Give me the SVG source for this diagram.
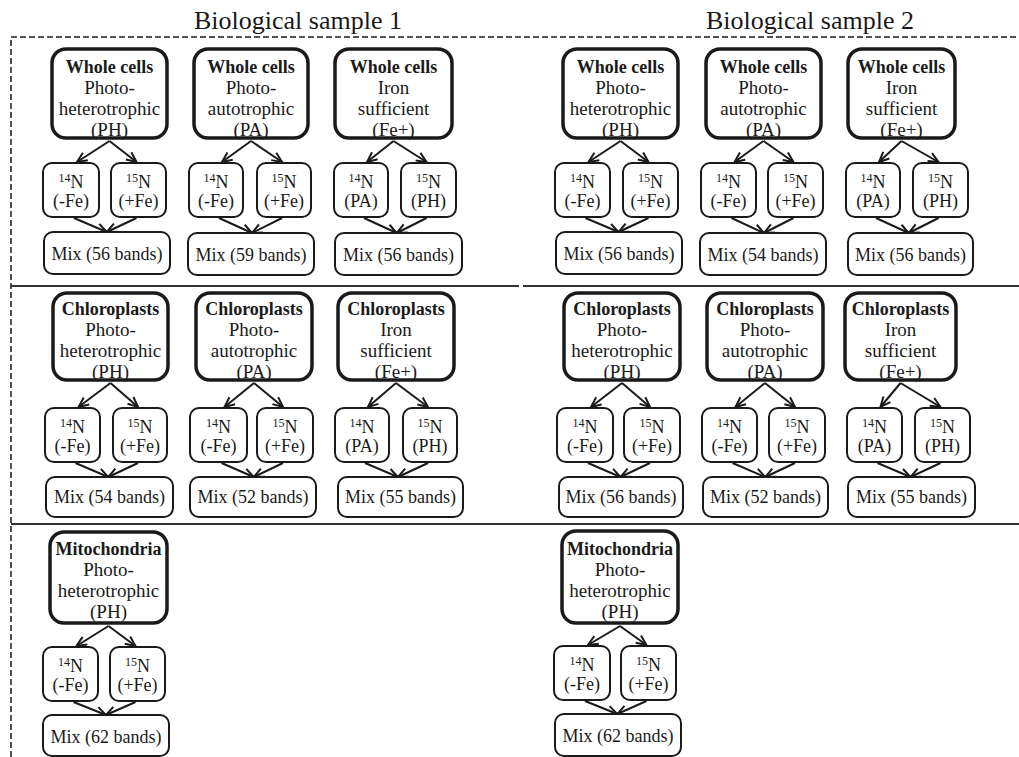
<svg xmlns="http://www.w3.org/2000/svg" width="1019" height="757" viewBox="0 0 1019 757">
<style>
.big{fill:#fff;stroke:#1a1a1a;stroke-width:3.5}
.sm{fill:#fff;stroke:#1a1a1a;stroke-width:2}
text{font-family:"Liberation Serif","Times New Roman",serif;font-size:18px;fill:#1a1a1a;text-anchor:middle}
.l{font-size:19px}
.b{font-weight:bold}
.sup{font-size:12px}
.title{font-size:26px}
#connectors line{stroke:#1a1a1a;stroke-width:2;marker-end:url(#ah)}
.frame{fill:none;stroke:#1a1a1a;stroke-width:1.5;stroke-dasharray:6 3}
.sep{stroke:#333;stroke-width:2}
</style>
<defs>
<marker id="ah" viewBox="0 0 12 12" refX="11" refY="6" markerWidth="12" markerHeight="12" markerUnits="userSpaceOnUse" orient="auto">
<path d="M1,1.5 L11,6 L1,10.5" fill="none" stroke="#1a1a1a" stroke-width="2"/>
</marker>
</defs>
<rect width="1019" height="757" fill="#fff"/>
<text class="title" x="298" y="29">Biological sample 1</text>
<text class="title" x="810" y="29">Biological sample 2</text>
<path class="frame" d="M11,757 V37 H1019"/>
<line class="sep" x1="11" y1="286" x2="519" y2="286"/>
<line class="sep" x1="523" y1="286" x2="1019" y2="286"/>
<line class="sep" x1="11" y1="524" x2="1019" y2="524"/>

<g id="connectors">
<line x1="109.5" y1="141" x2="77" y2="162"/><line x1="109.5" y1="141" x2="136.5" y2="162"/>
<line x1="74" y1="218" x2="106.75" y2="232"/><line x1="136.5" y1="218" x2="106.75" y2="232"/>
<line x1="251" y1="141" x2="222" y2="162"/><line x1="251" y1="141" x2="282" y2="162"/>
<line x1="219" y1="218" x2="252" y2="233"/><line x1="282" y1="218" x2="252" y2="233"/>
<line x1="393.5" y1="141" x2="367" y2="162"/><line x1="393.5" y1="141" x2="426.5" y2="162"/>
<line x1="364" y1="218" x2="396.75" y2="233"/><line x1="426.5" y1="218" x2="396.75" y2="233"/>
<line x1="620.5" y1="141" x2="588.5" y2="162"/><line x1="620.5" y1="141" x2="648.5" y2="162"/>
<line x1="585.5" y1="218" x2="618.5" y2="232"/><line x1="648.5" y1="218" x2="618.5" y2="232"/>
<line x1="763.5" y1="141" x2="734.5" y2="162"/><line x1="763.5" y1="141" x2="793.5" y2="162"/>
<line x1="731.5" y1="218" x2="764" y2="233"/><line x1="793.5" y1="218" x2="764" y2="233"/>
<line x1="901.5" y1="141" x2="879" y2="162"/><line x1="901.5" y1="141" x2="938.5" y2="162"/>
<line x1="876" y1="218" x2="908.75" y2="233"/><line x1="938.5" y1="218" x2="908.75" y2="233"/>

<line x1="110.5" y1="383" x2="78.5" y2="407"/><line x1="110.5" y1="383" x2="138" y2="407"/>
<line x1="75.5" y1="463" x2="108.25" y2="477"/><line x1="138" y1="463" x2="108.25" y2="477"/>
<line x1="254" y1="383" x2="224.5" y2="407"/><line x1="254" y1="383" x2="283" y2="407"/>
<line x1="221.5" y1="463" x2="253.75" y2="477"/><line x1="283" y1="463" x2="253.75" y2="477"/>
<line x1="396" y1="383" x2="368" y2="407"/><line x1="396" y1="383" x2="428" y2="407"/>
<line x1="365" y1="463" x2="398" y2="477"/><line x1="428" y1="463" x2="398" y2="477"/>
<line x1="622" y1="383" x2="591" y2="407"/><line x1="622" y1="383" x2="650" y2="407"/>
<line x1="588" y1="463" x2="620.5" y2="477"/><line x1="650" y1="463" x2="620.5" y2="477"/>
<line x1="765" y1="383" x2="735.5" y2="407"/><line x1="765" y1="383" x2="795" y2="407"/>
<line x1="732.5" y1="463" x2="765.25" y2="477"/><line x1="795" y1="463" x2="765.25" y2="477"/>
<line x1="900.5" y1="383" x2="880.5" y2="407"/><line x1="900.5" y1="383" x2="940.5" y2="407"/>
<line x1="877.5" y1="463" x2="910.5" y2="477"/><line x1="940.5" y1="463" x2="910.5" y2="477"/>

<line x1="108.5" y1="626" x2="76.5" y2="646"/><line x1="108.5" y1="626" x2="135.5" y2="646"/>
<line x1="73.5" y1="702" x2="106" y2="715"/><line x1="135.5" y1="702" x2="106" y2="715"/>
<line x1="620" y1="626" x2="588" y2="645"/><line x1="620" y1="626" x2="646.5" y2="645"/>
<line x1="585" y1="701" x2="617.25" y2="714"/><line x1="646.5" y1="701" x2="617.25" y2="714"/>
</g>

<!-- Row 1, sample 1 -->
<g id="s1-wc-ph"><rect class="big" x="52" y="49" width="115" height="89" rx="14"/>
<text x="109.5" y="73" class="b">Whole cells</text><text class="l" x="109.5" y="94">Photo-</text><text class="l" x="109.5" y="115">heterotrophic</text><text class="l" x="109.5" y="136">(PH)</text></g>
<g id="s1-wc-ph-14n"><rect class="sm" x="43" y="163" width="56" height="54" rx="9"/>
<text x="71" y="188"><tspan class="sup" dy="-6">14</tspan><tspan dy="6">N</tspan></text><text x="71" y="207">(-Fe)</text></g>
<g id="s1-wc-ph-15n"><rect class="sm" x="111" y="163" width="55" height="54" rx="9"/>
<text x="138.5" y="188"><tspan class="sup" dy="-6">15</tspan><tspan dy="6">N</tspan></text><text x="138.5" y="207">(+Fe)</text></g>
<g id="s1-wc-ph-mix"><rect class="sm" x="44" y="232" width="126" height="42" rx="9"/>
<text x="107" y="260">Mix (56 bands)</text></g>

<g id="s1-wc-pa"><rect class="big" x="194" y="49" width="114" height="89" rx="14"/>
<text x="251" y="73" class="b">Whole cells</text><text class="l" x="251" y="94">Photo-</text><text class="l" x="251" y="115">autotrophic</text><text class="l" x="251" y="136">(PA)</text></g>
<g id="s1-wc-pa-14n"><rect class="sm" x="189" y="163" width="54" height="54" rx="9"/>
<text x="216" y="188"><tspan class="sup" dy="-6">14</tspan><tspan dy="6">N</tspan></text><text x="216" y="207">(-Fe)</text></g>
<g id="s1-wc-pa-15n"><rect class="sm" x="257" y="163" width="54" height="54" rx="9"/>
<text x="284" y="188"><tspan class="sup" dy="-6">15</tspan><tspan dy="6">N</tspan></text><text x="284" y="207">(+Fe)</text></g>
<g id="s1-wc-pa-mix"><rect class="sm" x="188" y="233" width="126" height="42" rx="9"/>
<text x="251" y="261">Mix (59 bands)</text></g>

<g id="s1-wc-fe"><rect class="big" x="335" y="49" width="117" height="89" rx="14"/>
<text x="393.5" y="73" class="b">Whole cells</text><text class="l" x="393.5" y="94">Iron</text><text class="l" x="393.5" y="115">sufficient</text><text class="l" x="393.5" y="136">(Fe+)</text></g>
<g id="s1-wc-fe-14n"><rect class="sm" x="334" y="163" width="54" height="54" rx="9"/>
<text x="361" y="188"><tspan class="sup" dy="-6">14</tspan><tspan dy="6">N</tspan></text><text x="361" y="207">(PA)</text></g>
<g id="s1-wc-fe-15n"><rect class="sm" x="401" y="163" width="55" height="54" rx="9"/>
<text x="428.5" y="188"><tspan class="sup" dy="-6">15</tspan><tspan dy="6">N</tspan></text><text x="428.5" y="207">(PH)</text></g>
<g id="s1-wc-fe-mix"><rect class="sm" x="335" y="233" width="127" height="42" rx="9"/>
<text x="398.5" y="261">Mix (56 bands)</text></g>

<!-- Row 1, sample 2 -->
<g id="s2-wc-ph"><rect class="big" x="563" y="49" width="115" height="89" rx="14"/>
<text x="620.5" y="73" class="b">Whole cells</text><text class="l" x="620.5" y="94">Photo-</text><text class="l" x="620.5" y="115">heterotrophic</text><text class="l" x="620.5" y="136">(PH)</text></g>
<g id="s2-wc-ph-14n"><rect class="sm" x="555" y="163" width="55" height="54" rx="9"/>
<text x="582.5" y="188"><tspan class="sup" dy="-6">14</tspan><tspan dy="6">N</tspan></text><text x="582.5" y="207">(-Fe)</text></g>
<g id="s2-wc-ph-15n"><rect class="sm" x="623" y="163" width="55" height="54" rx="9"/>
<text x="650.5" y="188"><tspan class="sup" dy="-6">15</tspan><tspan dy="6">N</tspan></text><text x="650.5" y="207">(+Fe)</text></g>
<g id="s2-wc-ph-mix"><rect class="sm" x="556" y="232" width="126" height="42" rx="9"/>
<text x="619" y="260">Mix (56 bands)</text></g>

<g id="s2-wc-pa"><rect class="big" x="706" y="49" width="115" height="89" rx="14"/>
<text x="763.5" y="73" class="b">Whole cells</text><text class="l" x="763.5" y="94">Photo-</text><text class="l" x="763.5" y="115">autotrophic</text><text class="l" x="763.5" y="136">(PA)</text></g>
<g id="s2-wc-pa-14n"><rect class="sm" x="701" y="163" width="55" height="54" rx="9"/>
<text x="728.5" y="188"><tspan class="sup" dy="-6">14</tspan><tspan dy="6">N</tspan></text><text x="728.5" y="207">(-Fe)</text></g>
<g id="s2-wc-pa-15n"><rect class="sm" x="768" y="163" width="55" height="54" rx="9"/>
<text x="795.5" y="188"><tspan class="sup" dy="-6">15</tspan><tspan dy="6">N</tspan></text><text x="795.5" y="207">(+Fe)</text></g>
<g id="s2-wc-pa-mix"><rect class="sm" x="700" y="233" width="126" height="42" rx="9"/>
<text x="763" y="261">Mix (54 bands)</text></g>

<g id="s2-wc-fe"><rect class="big" x="848" y="49" width="107" height="89" rx="14"/>
<text x="901.5" y="73" class="b">Whole cells</text><text class="l" x="901.5" y="94">Iron</text><text class="l" x="901.5" y="115">sufficient</text><text class="l" x="901.5" y="136">(Fe+)</text></g>
<g id="s2-wc-fe-14n"><rect class="sm" x="846" y="163" width="54" height="54" rx="9"/>
<text x="873" y="188"><tspan class="sup" dy="-6">14</tspan><tspan dy="6">N</tspan></text><text x="873" y="207">(PA)</text></g>
<g id="s2-wc-fe-15n"><rect class="sm" x="913" y="163" width="55" height="54" rx="9"/>
<text x="940.5" y="188"><tspan class="sup" dy="-6">15</tspan><tspan dy="6">N</tspan></text><text x="940.5" y="207">(PH)</text></g>
<g id="s2-wc-fe-mix"><rect class="sm" x="848" y="233" width="125" height="42" rx="9"/>
<text x="910.5" y="261">Mix (56 bands)</text></g>

<!-- Row 2, sample 1 -->
<g id="s1-cp-ph"><rect class="big" x="53" y="293" width="115" height="87" rx="14"/>
<text x="110.5" y="315" class="b">Chloroplasts</text><text class="l" x="110.5" y="336">Photo-</text><text class="l" x="110.5" y="357">heterotrophic</text><text class="l" x="110.5" y="378">(PH)</text></g>
<g id="s1-cp-ph-14n"><rect class="sm" x="45" y="408" width="55" height="54" rx="9"/>
<text x="72.5" y="433"><tspan class="sup" dy="-6">14</tspan><tspan dy="6">N</tspan></text><text x="72.5" y="452">(-Fe)</text></g>
<g id="s1-cp-ph-15n"><rect class="sm" x="113" y="408" width="54" height="54" rx="9"/>
<text x="140" y="433"><tspan class="sup" dy="-6">15</tspan><tspan dy="6">N</tspan></text><text x="140" y="452">(+Fe)</text></g>
<g id="s1-cp-ph-mix"><rect class="sm" x="46" y="477" width="127" height="40" rx="9"/>
<text x="109.5" y="503">Mix (54 bands)</text></g>

<g id="s1-cp-pa"><rect class="big" x="196" y="293" width="116" height="87" rx="14"/>
<text x="254" y="315" class="b">Chloroplasts</text><text class="l" x="254" y="336">Photo-</text><text class="l" x="254" y="357">autotrophic</text><text class="l" x="254" y="378">(PA)</text></g>
<g id="s1-cp-pa-14n"><rect class="sm" x="190" y="408" width="57" height="54" rx="9"/>
<text x="218.5" y="433"><tspan class="sup" dy="-6">14</tspan><tspan dy="6">N</tspan></text><text x="218.5" y="452">(-Fe)</text></g>
<g id="s1-cp-pa-15n"><rect class="sm" x="257" y="408" width="56" height="54" rx="9"/>
<text x="285" y="433"><tspan class="sup" dy="-6">15</tspan><tspan dy="6">N</tspan></text><text x="285" y="452">(+Fe)</text></g>
<g id="s1-cp-pa-mix"><rect class="sm" x="190" y="477" width="126" height="40" rx="9"/>
<text x="253" y="503">Mix (52 bands)</text></g>

<g id="s1-cp-fe"><rect class="big" x="338" y="293" width="116" height="87" rx="14"/>
<text x="396" y="315" class="b">Chloroplasts</text><text class="l" x="396" y="336">Iron</text><text class="l" x="396" y="357">sufficient</text><text class="l" x="396" y="378">(Fe+)</text></g>
<g id="s1-cp-fe-14n"><rect class="sm" x="335" y="408" width="54" height="54" rx="9"/>
<text x="362" y="433"><tspan class="sup" dy="-6">14</tspan><tspan dy="6">N</tspan></text><text x="362" y="452">(PA)</text></g>
<g id="s1-cp-fe-15n"><rect class="sm" x="403" y="408" width="54" height="54" rx="9"/>
<text x="430" y="433"><tspan class="sup" dy="-6">15</tspan><tspan dy="6">N</tspan></text><text x="430" y="452">(PH)</text></g>
<g id="s1-cp-fe-mix"><rect class="sm" x="338" y="477" width="125" height="40" rx="9"/>
<text x="400.5" y="503">Mix (55 bands)</text></g>

<!-- Row 2, sample 2 -->
<g id="s2-cp-ph"><rect class="big" x="564" y="293" width="116" height="87" rx="14"/>
<text x="622" y="315" class="b">Chloroplasts</text><text class="l" x="622" y="336">Photo-</text><text class="l" x="622" y="357">heterotrophic</text><text class="l" x="622" y="378">(PH)</text></g>
<g id="s2-cp-ph-14n"><rect class="sm" x="557" y="408" width="56" height="54" rx="9"/>
<text x="585" y="433"><tspan class="sup" dy="-6">14</tspan><tspan dy="6">N</tspan></text><text x="585" y="452">(-Fe)</text></g>
<g id="s2-cp-ph-15n"><rect class="sm" x="624" y="408" width="56" height="54" rx="9"/>
<text x="652" y="433"><tspan class="sup" dy="-6">15</tspan><tspan dy="6">N</tspan></text><text x="652" y="452">(+Fe)</text></g>
<g id="s2-cp-ph-mix"><rect class="sm" x="559" y="477" width="124" height="40" rx="9"/>
<text x="621" y="503">Mix (56 bands)</text></g>

<g id="s2-cp-pa"><rect class="big" x="707" y="293" width="116" height="87" rx="14"/>
<text x="765" y="315" class="b">Chloroplasts</text><text class="l" x="765" y="336">Photo-</text><text class="l" x="765" y="357">autotrophic</text><text class="l" x="765" y="378">(PA)</text></g>
<g id="s2-cp-pa-14n"><rect class="sm" x="702" y="408" width="55" height="54" rx="9"/>
<text x="729.5" y="433"><tspan class="sup" dy="-6">14</tspan><tspan dy="6">N</tspan></text><text x="729.5" y="452">(-Fe)</text></g>
<g id="s2-cp-pa-15n"><rect class="sm" x="769" y="408" width="56" height="54" rx="9"/>
<text x="797" y="433"><tspan class="sup" dy="-6">15</tspan><tspan dy="6">N</tspan></text><text x="797" y="452">(+Fe)</text></g>
<g id="s2-cp-pa-mix"><rect class="sm" x="703" y="477" width="125" height="40" rx="9"/>
<text x="765.5" y="503">Mix (52 bands)</text></g>

<g id="s2-cp-fe"><rect class="big" x="845" y="293" width="111" height="87" rx="14"/>
<text x="900.5" y="315" class="b">Chloroplasts</text><text class="l" x="900.5" y="336">Iron</text><text class="l" x="900.5" y="357">sufficient</text><text class="l" x="900.5" y="378">(Fe+)</text></g>
<g id="s2-cp-fe-14n"><rect class="sm" x="847" y="408" width="55" height="54" rx="9"/>
<text x="874.5" y="433"><tspan class="sup" dy="-6">14</tspan><tspan dy="6">N</tspan></text><text x="874.5" y="452">(PA)</text></g>
<g id="s2-cp-fe-15n"><rect class="sm" x="915" y="408" width="55" height="54" rx="9"/>
<text x="942.5" y="433"><tspan class="sup" dy="-6">15</tspan><tspan dy="6">N</tspan></text><text x="942.5" y="452">(PH)</text></g>
<g id="s2-cp-fe-mix"><rect class="sm" x="848" y="477" width="127" height="40" rx="9"/>
<text x="911.5" y="503">Mix (55 bands)</text></g>

<!-- Row 3 -->
<g id="s1-mt-ph"><rect class="big" x="50" y="532" width="117" height="91" rx="14"/>
<text x="108.5" y="555" class="b">Mitochondria</text><text class="l" x="108.5" y="576">Photo-</text><text class="l" x="108.5" y="597">heterotrophic</text><text class="l" x="108.5" y="618">(PH)</text></g>
<g id="s1-mt-ph-14n"><rect class="sm" x="43" y="647" width="55" height="54" rx="9"/>
<text x="70.5" y="672"><tspan class="sup" dy="-6">14</tspan><tspan dy="6">N</tspan></text><text x="70.5" y="691">(-Fe)</text></g>
<g id="s1-mt-ph-15n"><rect class="sm" x="110" y="647" width="55" height="54" rx="9"/>
<text x="137.5" y="672"><tspan class="sup" dy="-6">15</tspan><tspan dy="6">N</tspan></text><text x="137.5" y="691">(+Fe)</text></g>
<g id="s1-mt-ph-mix"><rect class="sm" x="43" y="715" width="126" height="41" rx="9"/>
<text x="106" y="743">Mix (62 bands)</text></g>

<g id="s2-mt-ph"><rect class="big" x="562" y="531" width="116" height="92" rx="14"/>
<text x="620" y="555" class="b">Mitochondria</text><text class="l" x="620" y="576">Photo-</text><text class="l" x="620" y="597">heterotrophic</text><text class="l" x="620" y="618">(PH)</text></g>
<g id="s2-mt-ph-14n"><rect class="sm" x="554" y="646" width="56" height="54" rx="9"/>
<text x="582" y="671"><tspan class="sup" dy="-6">14</tspan><tspan dy="6">N</tspan></text><text x="582" y="690">(-Fe)</text></g>
<g id="s2-mt-ph-15n"><rect class="sm" x="621" y="646" width="55" height="54" rx="9"/>
<text x="648.5" y="671"><tspan class="sup" dy="-6">15</tspan><tspan dy="6">N</tspan></text><text x="648.5" y="690">(+Fe)</text></g>
<g id="s2-mt-ph-mix"><rect class="sm" x="555" y="714" width="126" height="42" rx="9"/>
<text x="618" y="742">Mix (62 bands)</text></g>
</svg>
